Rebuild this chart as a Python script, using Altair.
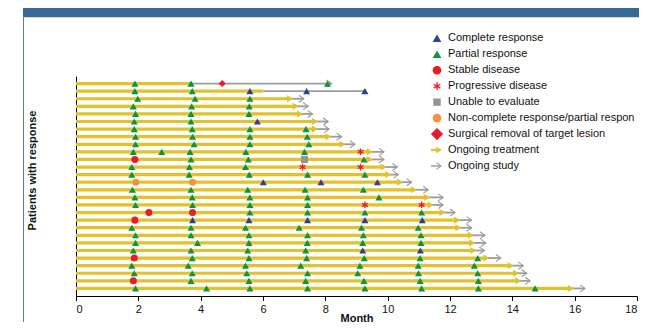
import altair as alt
import pandas as pd

# ---------------- data ----------------
patients = list(range(1, 29))  # 1 = top row

treatment_end = [3.69, 6.01, 6.87, 7.05, 7.19, 7.67, 7.67, 8.10, 8.55, 9.43,
                 9.43, 9.88, 10.02, 10.40, 10.84, 11.27, 11.38, 11.76, 12.23, 12.27,
                 12.67, 12.71, 12.75, 13.17, 13.95, 14.12, 14.19, 15.88]
study_end = [8.20, 9.27, 7.31, 7.45, 7.59, 8.09, 8.12, 8.52, 8.95, 9.88,
             9.88, 10.31, 10.34, 10.77, 11.30, 11.78, 11.78, 12.16, 12.69, 12.69,
             13.12, 13.15, 13.10, 13.63, 14.35, 14.46, 14.57, 16.33]
treatment_ongoing = [False, False] + [True] * 26
study_ongoing = [True, False] + [True] * 26

complete_response = [(2, 5.58), (2, 7.40), (2, 9.27), (6, 5.82), (14, 6.01), (14, 7.86),
                     (14, 9.67), (19, 3.74), (19, 5.55), (19, 7.43), (19, 9.27),
                     (19, 11.11), (23, 9.20), (23, 11.05)]
partial_response = [
    (1, 1.89), (1, 3.69), (1, 8.07),
    (2, 1.89), (2, 3.73),
    (3, 1.98), (3, 3.82), (3, 5.58),
    (4, 1.84), (4, 3.71), (4, 5.56),
    (5, 1.91), (5, 3.69), (5, 5.55),
    (6, 1.87), (6, 3.69),
    (7, 1.87), (7, 3.73), (7, 5.58), (7, 7.38),
    (8, 1.91), (8, 3.74), (8, 5.58), (8, 7.42),
    (9, 1.91), (9, 3.79), (9, 5.58), (9, 7.47),
    (10, 1.84), (10, 2.75), (10, 3.66), (10, 5.45), (10, 7.33),
    (11, 3.69), (11, 5.53), (11, 9.24),
    (12, 1.79), (12, 3.64), (12, 5.44),
    (13, 1.79), (13, 3.63), (13, 5.56), (13, 7.43), (13, 9.27),
    (15, 1.81), (15, 3.69), (15, 5.51), (15, 7.35), (15, 9.22),
    (16, 1.89), (16, 3.73), (16, 5.58), (16, 7.43), (16, 9.72),
    (17, 1.91), (17, 3.74), (17, 5.58), (17, 7.43),
    (18, 5.58), (18, 7.43), (18, 9.27), (18, 11.09),
    (20, 1.79), (20, 3.69), (20, 5.44), (20, 7.16), (20, 9.16), (20, 10.98),
    (21, 1.91), (21, 3.69), (21, 5.55), (21, 7.43), (21, 9.22), (21, 11.07),
    (22, 1.91), (22, 3.90), (22, 5.55), (22, 7.42), (22, 9.20), (22, 11.07),
    (23, 1.84), (23, 3.69), (23, 5.51), (23, 7.37),
    (24, 3.73), (24, 5.55), (24, 7.40), (24, 9.25), (24, 11.04), (24, 12.89),
    (25, 1.79), (25, 3.60), (25, 5.44), (25, 7.21), (25, 9.11), (25, 10.98), (25, 12.78),
    (26, 1.87), (26, 3.73), (26, 5.48), (26, 7.43), (26, 9.04), (26, 10.99), (26, 12.89),
    (27, 3.69), (27, 5.55), (27, 7.37), (27, 9.24), (27, 11.04), (27, 12.91),
    (28, 1.91), (28, 4.19), (28, 5.58), (28, 7.43), (28, 9.27), (28, 11.09), (28, 12.91), (28, 14.73),
]
stable_disease = [(11, 1.89), (18, 2.34), (18, 3.74), (19, 1.89), (24, 1.87), (27, 1.84)]
progressive_disease = [(10, 9.13), (12, 7.27), (12, 9.13), (17, 9.27), (17, 11.09)]
unable_to_evaluate = [(11, 7.33)]
non_cr_pr = [(14, 1.92), (14, 3.74)]
surgical_removal = [(1, 4.69)]

symbol_types = ["Complete response", "Partial response", "Stable disease",
                "Unable to evaluate", "Non-complete response/partial response",
                "Surgical removal of target lesion"]
legend_labels = ["Complete response", "Partial response", "Stable disease",
                 "Progressive disease", "Unable to evaluate",
                 "Non-complete response/partial response",
                 "Surgical removal of target lesion", "Ongoing treatment", "Ongoing study"]
x_ticks = list(range(0, 19, 2))
title_text = "Figure 2 Time to and duration of response in responding patients"

# ---------------- styles / layout ----------------
FONT = "Liberation Sans"
YELLOW = "#e2c22a"
GREY = "#9b9b9b"
symbol_colors = ["#2f3f97", "#0b9444", "#ec1c24", "#959595", "#f7923a", "#e8192c"]
symbol_shapes = ["triangle-up", "triangle-up", "circle", "square", "circle", "diamond"]
symbol_sizes = [50, 50, 45, 45, 45, 75]
legend_sizes = [75, 75, 75, 55, 75, 150]
ASTERISK = "M0,-1L0,1M-0.87,-0.5L0.87,0.5M-0.87,0.5L0.87,-0.5"
CHEVRON = "M-1.4,-1L0,0L-1.4,1"

W, H = 561, 220
PAD_L, PAD_T = 68, 68
RIGHT_EDGE, BOTTOM_EDGE = 639, 322          # page pixels available inside the 8px margin
LEG_TOP, LEG_STEP = 38.3 - 8 - PAD_T, 15.96
LEG_SYM_X, LEG_TXT_X = 437 - 8 - PAD_L, 448 - 8 - PAD_L

# ---------------- tables ----------------
lines = pd.DataFrame({"patient": patients, "start": 0.0, "treat_end": treatment_end,
                      "study_end": study_end, "treat_on": treatment_ongoing,
                      "study_on": study_ongoing})
event_lists = dict(zip(symbol_types, [complete_response, partial_response, stable_disease,
                                      unable_to_evaluate, non_cr_pr, surgical_removal]))
events = pd.DataFrame([{"patient": p, "month": m, "type": t}
                       for t, lst in event_lists.items() for p, m in lst])
pd_events = pd.DataFrame(progressive_disease, columns=["patient", "month"])

legend = pd.DataFrame({"label": legend_labels})
legend["ly"] = [LEG_TOP + i * LEG_STEP for i in range(len(legend_labels))]
legend_sym = legend[legend["label"].isin(symbol_types)].copy()
legend_sym["type"] = legend_sym["label"]
legend_sym["lsize"] = legend_sym["type"].map(dict(zip(symbol_types, legend_sizes)))

# ---------------- encodings ----------------
xscale = alt.Scale(domain=[0, 18], nice=False, zero=False)
yscale = alt.Scale(domain=[0, 29], reverse=True, nice=False, zero=False)
xaxis = alt.Axis(values=x_ticks, title="Month", grid=False, domainColor="black",
                 tickColor="black", tickSize=4.5, labelFontSize=11, labelFont=FONT,
                 labelColor="#111", labelPadding=3, titleFont=FONT, titleFontSize=11,
                 titleFontWeight="bold", titleColor="#111", titleBaseline="alphabetic",
                 titleY=25, format="d")
yaxis = alt.Axis(labels=False, ticks=False, grid=False, domainColor="black",
                 title="Patients with response", titleFont=FONT, titleFontSize=11,
                 titleFontWeight="bold", titleColor="#111", titleX=-39, titleY=94)


def X(f):
    return alt.X(f, type="quantitative", scale=xscale, axis=xaxis)


def Y(f):
    return alt.Y(f, type="quantitative", scale=yscale, axis=yaxis)


color_enc = alt.Color("type:N", scale=alt.Scale(domain=symbol_types, range=symbol_colors), legend=None)
shape_enc = alt.Shape("type:N", scale=alt.Scale(domain=symbol_types, range=symbol_shapes), legend=None)

base = alt.Chart(lines)
grey_line = base.mark_rule(color=GREY, strokeWidth=1.8).encode(
    x=X("treat_end"), x2="study_end", y=Y("patient"))
yellow_line = base.mark_rule(color=YELLOW, strokeWidth=3.2).encode(
    x=X("start"), x2="treat_end", y=Y("patient"))
yellow_head = base.transform_filter("datum.treat_on").mark_point(
    shape="triangle-right", filled=True, size=50, color=YELLOW, opacity=1).encode(
    x=X("treat_end"), y=Y("patient"))
grey_head = base.transform_filter("datum.study_on").mark_point(
    shape=CHEVRON, filled=False, size=50, color=GREY, strokeWidth=1.1, opacity=1).encode(
    x=X("study_end"), y=Y("patient"))

event_pts = alt.Chart(events).mark_point(filled=True, opacity=1, strokeWidth=0).encode(
    x=X("month"), y=Y("patient"), color=color_enc, shape=shape_enc,
    size=alt.Size("type:N", scale=alt.Scale(domain=symbol_types, range=symbol_sizes), legend=None))
pd_pts = alt.Chart(pd_events).mark_point(shape=ASTERISK, filled=False, size=45,
                                         color="#ec1c24", strokeWidth=1.3, opacity=1).encode(
    x=X("month"), y=Y("patient"))

# ---------------- legend (drawn as a key) ----------------
leg_text = alt.Chart(legend).mark_text(align="left", baseline="middle", font=FONT,
                                       fontSize=11, color="#111",
                                       limit=RIGHT_EDGE - 448, ellipsis="\u200b").encode(
    x=alt.value(LEG_TXT_X), y=alt.Y("ly:Q", scale=None), text="label:N")
leg_sym = alt.Chart(legend_sym).mark_point(filled=True, opacity=1, strokeWidth=0).encode(
    x=alt.value(LEG_SYM_X), y=alt.Y("ly:Q", scale=None), color=color_enc, shape=shape_enc,
    size=alt.Size("lsize:Q", scale=None))
leg_pd = alt.Chart(legend[legend["label"] == "Progressive disease"]).mark_point(
    shape=ASTERISK, filled=False, size=60, color="#ec1c24", strokeWidth=1.3, opacity=1).encode(
    x=alt.value(LEG_SYM_X), y=alt.Y("ly:Q", scale=None))
leg_tr = legend[legend["label"] == "Ongoing treatment"]
leg_st = legend[legend["label"] == "Ongoing study"]
leg_tr_line = alt.Chart(leg_tr).mark_rule(color=YELLOW, strokeWidth=2.2).encode(
    x=alt.value(LEG_SYM_X - 6), x2=alt.value(LEG_SYM_X + 1), y=alt.Y("ly:Q", scale=None))
leg_tr_head = alt.Chart(leg_tr).mark_point(shape="triangle-right", filled=True, size=45,
                                           color=YELLOW, opacity=1).encode(
    x=alt.value(LEG_SYM_X + 2), y=alt.Y("ly:Q", scale=None))
leg_st_line = alt.Chart(leg_st).mark_rule(color=GREY, strokeWidth=1.5).encode(
    x=alt.value(LEG_SYM_X - 6), x2=alt.value(LEG_SYM_X + 4), y=alt.Y("ly:Q", scale=None))
leg_st_head = alt.Chart(leg_st).mark_point(shape=CHEVRON, filled=False, size=45, color=GREY,
                                           strokeWidth=1.1, opacity=1).encode(
    x=alt.value(LEG_SYM_X + 4), y=alt.Y("ly:Q", scale=None))

# ---------------- figure banner and frame ----------------
one = pd.DataFrame({"t": [title_text]})
banner = alt.Chart(one).mark_rect(color="#376996").encode(
    x=alt.value(23 - 8 - PAD_L), x2=alt.value(RIGHT_EDGE - 8 - PAD_L),
    y=alt.value(0 - 8 - PAD_T), y2=alt.value(17.3 - 8 - PAD_T))
banner_text = alt.Chart(one).mark_text(align="left", baseline="alphabetic", font=FONT,
                                       fontSize=15, fontWeight="bold", color="white").encode(
    x=alt.value(36 - 8 - PAD_L), y=alt.value(1.5 - 8 - PAD_T), text="t:N")
frame = alt.Chart(one).mark_rule(color="#5b7fa6", strokeWidth=1).encode(
    x=alt.value(23.5 - 8 - PAD_L), y=alt.value(17.3 - 8 - PAD_T),
    y2=alt.value(BOTTOM_EDGE - 8 - PAD_T))

chart = alt.layer(
    grey_line, yellow_line, yellow_head, grey_head, event_pts, pd_pts,
    leg_text, leg_sym, leg_pd, leg_tr_line, leg_tr_head, leg_st_line, leg_st_head,
    banner, banner_text, frame,
).properties(
    width=W, height=H,
    autosize=alt.AutoSizeParams(type="none"),
    padding={"left": PAD_L, "top": PAD_T, "right": RIGHT_EDGE - 8 - PAD_L - W,
             "bottom": BOTTOM_EDGE - 8 - PAD_T - H},
    background="white",
).configure_view(stroke=None)

chart.save("out.html", embed_options={"renderer": "svg", "actions": False})
